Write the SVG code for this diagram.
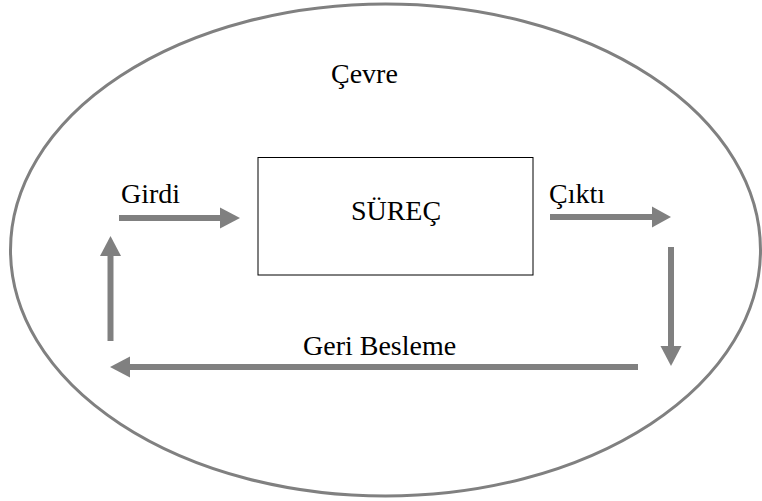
<svg xmlns="http://www.w3.org/2000/svg" width="762" height="501" viewBox="0 0 762 501">
  <style>
    .lbl { font-family: 'Liberation Serif', 'DejaVu Serif', serif; font-size: 28px; fill: #000; }
    .flow { stroke: #808080; stroke-width: 6; fill: none; }
    .head { fill: #808080; }
  </style>
  <rect width="762" height="501" fill="#fff"/>

  <!-- environment boundary -->
  <g id="cevre">
    <ellipse cx="385.5" cy="250" rx="375" ry="246" fill="none" stroke="#808080" stroke-width="3"/>
    <text class="lbl" x="331" y="83" font-family="Liberation Serif">Çevre</text>
  </g>

  <!-- process box -->
  <g id="surec">
    <rect x="258" y="157.5" width="275" height="117.5" fill="#fff" stroke="#000" stroke-width="1"/>
    <text class="lbl" x="396" y="220" text-anchor="middle" font-family="Liberation Serif">SÜREÇ</text>
  </g>

  <g id="girdi-label"><text class="lbl" x="121" y="203" font-family="Liberation Serif">Girdi</text></g>
  <g id="cikti-label"><text class="lbl" x="549" y="203" font-family="Liberation Serif">Çıktı</text></g>
  <g id="geri-besleme-label"><text class="lbl" x="303" y="355" font-family="Liberation Serif">Geri Besleme</text></g>

  <!-- arrows -->
  <g id="connectors">
    <!-- input -->
    <line class="flow" x1="119" y1="218" x2="221" y2="218"/>
    <polygon class="head" points="220,207.5 240,218 220,228.5"/>
    <!-- output -->
    <line class="flow" x1="550" y1="217" x2="653" y2="217"/>
    <polygon class="head" points="652,206.5 671,217 652,227.5"/>
    <!-- down -->
    <line class="flow" x1="671" y1="247" x2="671" y2="347"/>
    <polygon class="head" points="660.5,346 681.5,346 671,366"/>
    <!-- feedback -->
    <line class="flow" x1="638" y1="367" x2="129" y2="367"/>
    <polygon class="head" points="130,356.5 130,377.5 110,367"/>
    <!-- up -->
    <line class="flow" x1="110.5" y1="341" x2="110.5" y2="255"/>
    <polygon class="head" points="100,256 121,256 110.5,236"/>
  </g>
</svg>
